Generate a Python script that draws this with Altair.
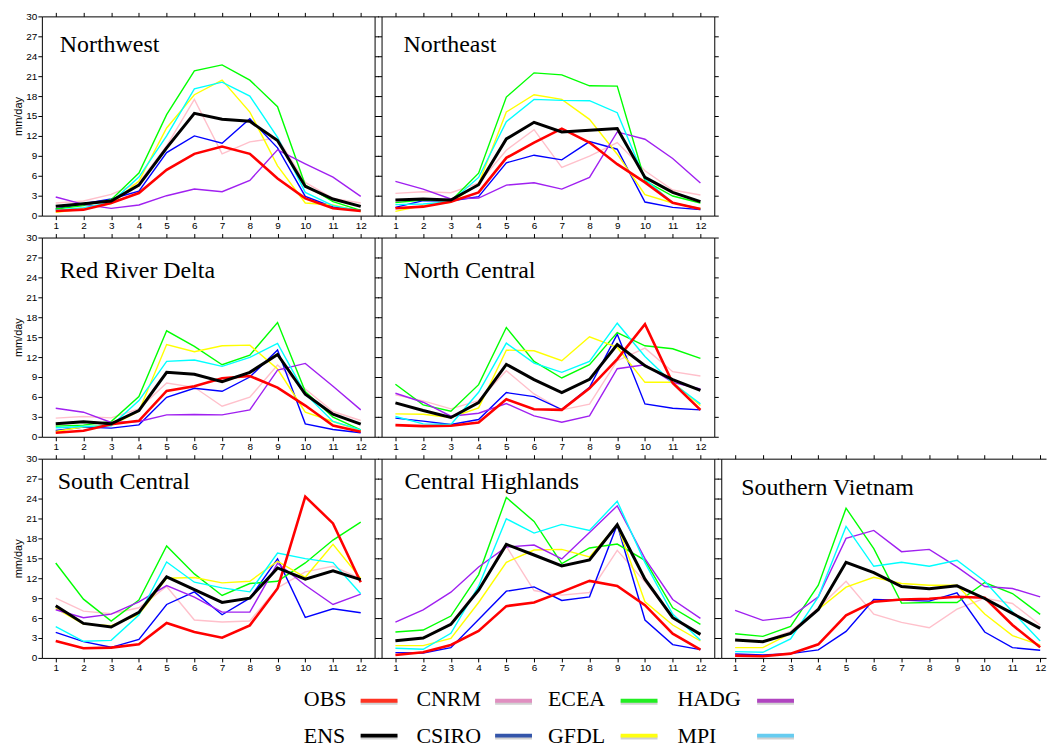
import altair as alt
import pandas as pd

MONTHS = list(range(1, 13))
Y_TICKS = list(range(0, 31, 3))
MODELS = ["CNRM", "CSIRO", "ECEA", "GFDL", "HADG", "MPI"]
MODEL_COLORS = ["#ffc0cb", "#0000ff", "#00ff00", "#ffff00", "#a020f0", "#00ffff"]

NORTHWEST = {
    "OBS":   [0.7, 0.9, 1.9, 3.4, 6.9, 9.3, 10.4, 9.3, 5.6, 2.6, 1.1, 0.7],
    "ENS":   [1.4, 1.8, 2.2, 4.6, 10.2, 15.4, 14.5, 14.2, 11.3, 4.4, 2.5, 1.4],
    "CNRM":  [1.9, 2.2, 3.2, 5.0, 10.5, 17.5, 9.3, 11.1, 11.7, 5.0, 2.6, 1.9],
    "CSIRO": [1.0, 1.8, 2.5, 3.7, 9.5, 12.0, 10.9, 14.6, 10.2, 2.9, 1.3, 0.8],
    "ECEA":  [1.0, 1.5, 2.4, 6.4, 15.2, 21.8, 22.7, 20.4, 16.4, 4.6, 2.1, 0.8],
    "GFDL":  [0.5, 1.0, 1.8, 5.2, 13.2, 18.2, 20.4, 15.6, 7.5, 1.9, 1.6, 0.6],
    "HADG":  [2.8, 1.7, 1.1, 1.6, 3.0, 4.0, 3.6, 5.3, 9.9, 7.8, 5.8, 2.9],
    "MPI":   [0.8, 1.2, 2.0, 5.8, 12.0, 19.1, 20.1, 18.0, 11.8, 3.5, 1.5, 0.7],
}
NORTHEAST = {
    "OBS":   [1.1, 1.35, 2.1, 3.5, 8.7, 11.0, 13.1, 11.0, 7.75, 5.0, 1.95, 1.0],
    "ENS":   [2.35, 2.5, 2.35, 4.65, 11.55, 14.05, 12.6, 12.85, 13.1, 5.75, 3.5, 2.1],
    "CNRM":  [3.35, 3.6, 3.45, 4.9, 9.85, 12.95, 7.25, 8.95, 11.0, 6.75, 3.85, 3.1],
    "CSIRO": [1.25, 2.25, 2.2, 2.85, 7.95, 9.1, 8.4, 11.15, 10.0, 2.05, 1.25, 0.9],
    "ECEA":  [1.95, 2.35, 2.2, 6.4, 17.85, 21.5, 21.2, 19.55, 19.5, 5.25, 2.95, 1.9],
    "GFDL":  [0.65, 1.5, 2.0, 4.8, 15.6, 18.2, 17.5, 14.5, 9.25, 3.15, 1.9, 1.1],
    "HADG":  [5.15, 4.0, 2.5, 2.65, 4.6, 4.95, 4.0, 5.75, 12.6, 11.5, 8.6, 4.9],
    "MPI":   [1.65, 1.75, 2.1, 5.75, 14.15, 17.5, 17.35, 17.3, 15.5, 5.5, 1.95, 1.0],
}
RED_RIVER_DELTA = {
    "OBS":   [0.6, 0.9, 1.9, 2.4, 6.9, 7.6, 8.8, 9.15, 7.4, 4.7, 1.7, 0.75],
    "ENS":   [1.95, 2.25, 1.95, 3.95, 9.7, 9.4, 8.3, 9.7, 12.4, 6.4, 3.4, 1.9],
    "CNRM":  [2.8, 3.05, 2.85, 4.2, 8.1, 7.45, 4.6, 5.95, 10.8, 7.2, 3.8, 2.45],
    "CSIRO": [0.95, 1.45, 1.3, 1.8, 5.95, 7.3, 6.85, 9.0, 13.05, 1.95, 1.1, 0.6],
    "ECEA":  [1.6, 1.75, 2.3, 6.05, 15.95, 13.6, 10.85, 12.3, 17.2, 6.8, 2.95, 1.05],
    "GFDL":  [0.8, 1.5, 1.7, 3.85, 13.9, 12.8, 13.7, 13.8, 10.2, 3.7, 2.3, 0.95],
    "HADG":  [4.3, 3.7, 2.15, 2.3, 3.3, 3.35, 3.3, 4.05, 10.05, 11.05, 7.6, 4.05],
    "MPI":   [1.35, 1.55, 1.65, 5.45, 11.35, 11.55, 10.6, 11.95, 14.05, 6.45, 2.3, 1.05],
}
NORTH_CENTRAL = {
    "OBS":   [1.75, 1.6, 1.65, 2.15, 5.65, 4.15, 4.05, 7.3, 11.7, 16.95, 8.1, 4.05],
    "ENS":   [5.1, 3.95, 2.9, 5.15, 10.9, 8.6, 6.65, 8.65, 13.9, 10.7, 8.6, 7.0],
    "CNRM":  [6.3, 5.4, 4.2, 5.45, 9.95, 6.45, 4.05, 4.9, 11.45, 13.35, 9.8, 9.15],
    "CSIRO": [2.8, 2.35, 1.85, 2.6, 6.65, 6.05, 4.1, 7.45, 15.45, 4.95, 4.3, 4.05],
    "ECEA":  [7.9, 4.8, 3.85, 7.85, 16.45, 11.35, 8.85, 10.85, 15.7, 13.7, 13.25, 11.8],
    "GFDL":  [3.45, 3.4, 2.9, 4.35, 13.05, 12.95, 11.45, 15.05, 13.45, 8.2, 8.2, 4.7],
    "HADG":  [6.55, 5.2, 3.1, 3.55, 5.0, 3.15, 2.2, 3.15, 10.25, 10.85, 8.2, 7.2],
    "MPI":   [3.05, 1.95, 1.85, 6.7, 14.1, 11.1, 9.7, 11.35, 17.1, 12.1, 8.1, 4.95],
}
SOUTH_CENTRAL = {
    "OBS":   [2.55, 1.45, 1.55, 2.05, 5.25, 3.9, 3.05, 4.9, 10.45, 24.3, 20.25, 11.4],
    "ENS":   [7.85, 5.2, 4.65, 6.85, 12.2, 10.3, 8.35, 9.0, 13.55, 11.85, 13.1, 11.8],
    "CNRM":  [9.0, 7.05, 6.65, 7.55, 10.75, 5.7, 5.4, 5.55, 10.55, 12.95, 13.8, 11.95],
    "CSIRO": [3.85, 2.45, 1.6, 2.8, 8.05, 9.95, 6.5, 9.0, 14.9, 6.1, 7.4, 6.8],
    "ECEA":  [14.3, 8.85, 5.55, 8.7, 16.85, 12.65, 9.4, 11.2, 11.55, 14.3, 17.75, 20.45],
    "GFDL":  [7.45, 5.1, 4.85, 6.55, 12.0, 12.1, 11.3, 11.55, 14.55, 12.15, 17.1, 11.95],
    "HADG":  [7.25, 6.05, 6.6, 8.45, 10.9, 9.15, 6.9, 6.9, 14.25, 10.95, 8.05, 9.6],
    "MPI":   [4.7, 2.5, 2.65, 6.45, 14.45, 11.4, 10.55, 9.95, 15.8, 14.95, 14.35, 9.65],
}
CENTRAL_HIGHLANDS = {
    "OBS":   [0.45, 0.85, 1.95, 4.05, 7.8, 8.35, 9.95, 11.6, 10.85, 7.95, 3.65, 1.25],
    "ENS":   [2.6, 3.0, 5.05, 10.2, 17.1, 15.5, 13.85, 14.75, 20.05, 11.85, 6.05, 3.55],
    "CNRM":  [2.6, 3.0, 5.2, 10.5, 16.8, 10.15, 9.45, 9.85, 16.2, 11.45, 6.2, 3.5],
    "CSIRO": [0.8, 0.75, 1.55, 5.8, 10.05, 10.7, 8.65, 9.2, 20.05, 5.7, 2.0, 1.25],
    "ECEA":  [3.9, 4.2, 6.3, 12.55, 24.15, 20.55, 14.2, 16.55, 17.15, 14.7, 7.55, 5.05],
    "GFDL":  [1.85, 1.85, 2.95, 8.35, 14.4, 16.25, 16.35, 15.2, 20.05, 8.45, 4.95, 2.55],
    "HADG":  [5.4, 7.25, 9.9, 13.7, 16.7, 17.0, 14.9, 18.9, 22.9, 14.95, 8.8, 5.95],
    "MPI":   [1.45, 1.3, 3.7, 10.8, 20.95, 18.8, 20.1, 19.2, 23.6, 14.35, 6.6, 2.65],
}
SOUTHERN_VIETNAM = {
    "OBS":   [0.35, 0.25, 0.65, 2.05, 6.4, 8.45, 8.8, 8.9, 9.2, 9.05, 4.95, 1.6],
    "ENS":   [2.7, 2.45, 3.7, 7.3, 14.4, 12.85, 10.75, 10.4, 10.85, 8.95, 6.7, 4.45],
    "CNRM":  [2.8, 2.5, 4.0, 7.5, 11.55, 6.6, 5.35, 4.55, 7.35, 9.0, 8.2, 4.95],
    "CSIRO": [0.6, 0.45, 0.65, 1.2, 4.0, 8.8, 8.7, 8.55, 9.8, 3.9, 1.55, 1.15],
    "ECEA":  [3.65, 3.25, 4.75, 10.95, 22.55, 16.45, 8.25, 8.35, 8.35, 11.35, 9.7, 6.55],
    "GFDL":  [1.55, 1.55, 3.7, 7.3, 10.65, 12.15, 11.2, 10.95, 10.95, 6.6, 3.35, 1.95],
    "HADG":  [7.15, 5.65, 6.15, 9.2, 18.0, 19.2, 16.0, 16.35, 13.7, 10.75, 10.45, 9.2],
    "MPI":   [0.95, 0.85, 2.85, 9.2, 19.8, 13.8, 14.4, 13.8, 14.7, 11.55, 6.95, 2.55],
}

LEGEND_LABELS = ["OBS", "CNRM", "ECEA", "HADG", "ENS", "CSIRO", "GFDL", "MPI"]
LEGEND_COLORS = ["#ff3322", "#e08fc0", "#22ee22", "#b044c0",
                 "#000000", "#3355aa", "#ffff11", "#66ccf0"]
LEGEND_COL = [0, 1, 2, 3, 0, 1, 2, 3]
LEGEND_ROW = [0, 0, 0, 0, 1, 1, 1, 1]

SERIF = "Liberation Serif"
SANS = "Liberation Sans"


def to_frame(data):
    rows = []
    for series, vals in data.items():
        for m, v in zip(MONTHS, vals):
            rows.append({"series": series, "month": m, "value": v})
    return pd.DataFrame(rows)


def panel(name, data, width=334, xmax=12.5, left_labels=False, right_axis=True,
          tx=18, ty=36):
    df = to_frame(data)
    xs = alt.Scale(domain=[0.5, xmax], nice=False, zero=False)
    ys = alt.Scale(domain=[0, 30], nice=False, zero=True)
    base = alt.Chart(df)

    models = base.transform_filter(
        alt.FieldOneOfPredicate(field="series", oneOf=MODELS)
    ).mark_line(strokeWidth=1.4).encode(
        x=alt.X("month:Q", scale=xs, title="",
                axis=alt.Axis(orient="bottom", values=MONTHS, titlePadding=0)),
        y=alt.Y("value:Q", scale=ys, title="mm/day" if left_labels else "",
                axis=alt.Axis(orient="left", values=Y_TICKS, labels=left_labels,
                              titlePadding=2 if left_labels else 0)),
        color=alt.Color("series:N", scale=alt.Scale(domain=MODELS, range=MODEL_COLORS),
                        legend=None),
        detail="series:N",
    )

    if right_axis:
        frame_y = alt.Y("value:Q", scale=ys, title="",
                        axis=alt.Axis(orient="right", values=Y_TICKS, labels=False,
                                      titlePadding=0))
    else:
        frame_y = alt.Y("value:Q", scale=ys, axis=None)
    frame = base.mark_line(opacity=0).encode(
        x=alt.X("month:Q", scale=xs, title="",
                axis=alt.Axis(orient="top", values=MONTHS, labels=False, titlePadding=0)),
        y=frame_y,
        detail="series:N",
    )

    obs = base.transform_filter(alt.datum.series == "OBS").mark_line(
        color="#ff0000", strokeWidth=2.6
    ).encode(
        x=alt.X("month:Q", scale=xs, axis=None),
        y=alt.Y("value:Q", scale=ys, axis=None),
    )
    ens = base.transform_filter(alt.datum.series == "ENS").mark_line(
        color="#000000", strokeWidth=3
    ).encode(
        x=alt.X("month:Q", scale=xs, axis=None),
        y=alt.Y("value:Q", scale=ys, axis=None),
    )
    title = alt.Chart(pd.DataFrame({"region": [name]})).mark_text(
        font=SERIF, fontSize=24, align="left", baseline="alphabetic", color="black"
    ).encode(x=alt.value(tx), y=alt.value(ty), text="region:N")

    return alt.layer(frame, models, obs, ens, title).resolve_axis(
        x="independent", y="independent"
    ).properties(width=width, height=200)


def blank(width, height):
    return alt.Chart(pd.DataFrame({"a": [0]})).mark_point(opacity=0).encode(
        x=alt.value(0), y=alt.value(0)
    ).properties(width=width, height=height)


nw = panel("Northwest", NORTHWEST, left_labels=True, tx=18, ty=36)
ne = panel("Northeast", NORTHEAST, tx=22, ty=36)
rrd = panel("Red River Delta", RED_RIVER_DELTA, left_labels=True, tx=18, ty=41)
nc = panel("North Central", NORTH_CENTRAL, tx=22, ty=41)
sc = panel("South Central", SOUTH_CENTRAL, left_labels=True, tx=16, ty=30)
ch = panel("Central Highlands", CENTRAL_HIGHLANDS, tx=23, ty=30)
sv = panel("Southern Vietnam", SOUTHERN_VIETNAM, width=326, xmax=12.21,
           right_axis=False, tx=20, ty=36)

legend_df = pd.DataFrame({
    "label": LEGEND_LABELS, "col": LEGEND_COL, "row": LEGEND_ROW,
    "color": LEGEND_COLORS,
})
leg_text = alt.Chart(legend_df).mark_text(
    font=SERIF, fontSize=22, align="left", baseline="alphabetic", color="black"
).encode(
    x=alt.X("col:Q", scale=alt.Scale(domain=[0, 1, 2, 3], range=[263, 376, 508, 638]), axis=None),
    y=alt.Y("row:Q", scale=alt.Scale(domain=[0, 1], range=[26, 63]), axis=None),
    text="label:N",
)
line_x = alt.X("col:Q", scale=alt.Scale(domain=[0, 1, 2, 3], range=[320, 455, 581, 718]), axis=None)
line_y = alt.Y("row:Q", scale=alt.Scale(domain=[0, 1], range=[21, 56]), axis=None)
leg_shadow = alt.Chart(legend_df).mark_rule(
    strokeWidth=4, color="#999999", opacity=0.45, x2Offset=37, yOffset=2
).encode(x=line_x, x2=alt.X2("col:Q"), y=line_y)
leg_line = alt.Chart(legend_df).mark_rule(strokeWidth=4, x2Offset=37).encode(
    x=line_x, x2=alt.X2("col:Q"), y=line_y,
    color=alt.Color("color:N", scale=None),
)
legend = alt.layer(leg_shadow, leg_line, leg_text).resolve_scale(
    x="independent", y="independent"
).properties(width=334, height=60)

chart = alt.concat(
    nw, ne, blank(326, 200),
    rrd, nc, blank(326, 200),
    sc, ch, sv,
    legend,
    columns=3, spacing={"row": 22, "column": 7}, bounds="flush",
).properties(
    padding={"left": 4, "top": 2, "right": 0, "bottom": 0},
    background="white",
).configure_view(
    strokeWidth=0
).configure_axis(
    domainColor="black", tickColor="black", labelColor="black",
    labelFont=SANS, labelFontSize=10, labelPadding=1,
    tickSize=4, tickWidth=1, domainWidth=1, grid=False,
    titleFont=SANS, titleFontSize=11, titleFontWeight="normal", titleColor="black",
)

chart.save("out.html", embed_options={"renderer": "svg", "actions": False})
